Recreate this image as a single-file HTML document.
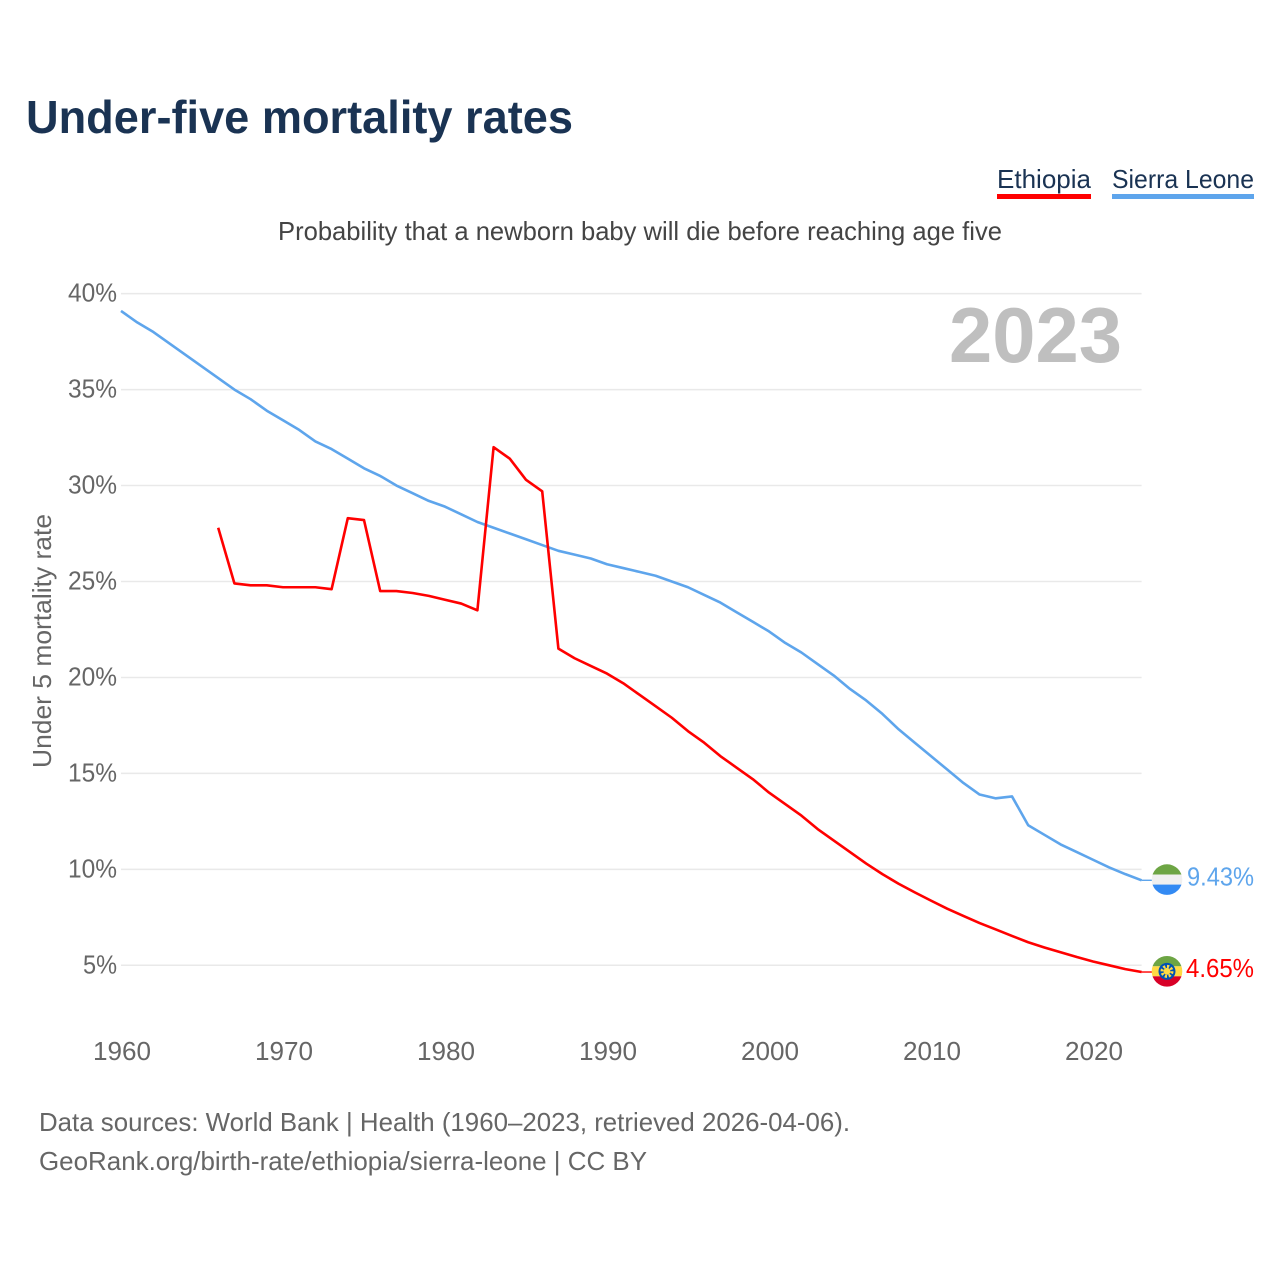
<!DOCTYPE html>
<html lang="en">
<head>
<meta charset="utf-8">
<title>Under-five mortality rates</title>
<style>
html,body{margin:0;padding:0;background:#fff;}
svg{display:block;font-family:"Liberation Sans",sans-serif;}
</style>
</head>
<body>
<svg id="chart" xmlns="http://www.w3.org/2000/svg" width="1280" height="1280" viewBox="0 0 1280 1280">
  <defs>
    <clipPath id="flag-clip-circle"><circle cx="0" cy="0" r="15.3"></circle></clipPath>
  </defs>
  <rect x="0" y="0" width="1280" height="1280" fill="#ffffff"></rect>
  <text x="26" y="133" font-size="46" font-weight="700" fill="#1a3353" textLength="547" lengthAdjust="spacingAndGlyphs">Under-five mortality rates</text>
  <g>
    <text x="997" y="188" font-size="26" fill="#1a3353" textLength="94" lengthAdjust="spacingAndGlyphs">Ethiopia</text>
    <rect x="997" y="194" width="94" height="5" fill="#ff0000"></rect>
  </g>
  <g>
    <text x="1112" y="188" font-size="26" fill="#1a3353" textLength="142" lengthAdjust="spacingAndGlyphs">Sierra Leone</text>
    <rect x="1112" y="194" width="142" height="5" fill="#5ea5ec"></rect>
  </g>
  <text x="278" y="240" font-size="26" fill="#444444" textLength="724" lengthAdjust="spacingAndGlyphs">Probability that a newborn baby will die before reaching age five</text>
  <g id="grid"></g>
  <g id="yticks"></g>
  <g id="xticks"></g>
  <text transform="translate(51,641) rotate(-90)" text-anchor="middle" font-size="26" fill="#666666" textLength="254" lengthAdjust="spacingAndGlyphs">Under 5 mortality rate</text>
  <text x="949" y="362" font-size="78" font-weight="700" fill="#bfbfbf" textLength="173" lengthAdjust="spacingAndGlyphs">2023</text>
  <g id="series"></g>
  <g id="end-markers"></g>
  <text x="39" y="1131" font-size="26" fill="#666666" textLength="811" lengthAdjust="spacingAndGlyphs">Data sources: World Bank | Health (1960–2023, retrieved 2026-04-06).</text>
  <text x="39" y="1170" font-size="26" fill="#666666" textLength="608" lengthAdjust="spacingAndGlyphs">GeoRank.org/birth-rate/ethiopia/sierra-leone | CC BY</text>
</svg>
<script>
const yTickValues = [5, 10, 15, 20, 25, 30, 35, 40];
const xTickYears = [1960, 1970, 1980, 1990, 2000, 2010, 2020];
const sierraLeoneStartYear = 1960;
const sierraLeoneValues = [39.1, 38.5, 38.0, 37.4, 36.8, 36.2, 35.6, 35.0, 34.5, 33.9, 33.4, 32.9, 32.3, 31.9, 31.4, 30.9, 30.5, 30.0, 29.6, 29.2, 28.9, 28.5, 28.1, 27.8, 27.5, 27.2, 26.9, 26.6, 26.4, 26.2, 25.9, 25.7, 25.5, 25.3, 25.0, 24.7, 24.3, 23.9, 23.4, 22.9, 22.4, 21.8, 21.3, 20.7, 20.1, 19.4, 18.8, 18.1, 17.3, 16.6, 15.9, 15.2, 14.5, 13.9, 13.7, 13.8, 12.3, 11.8, 11.3, 10.9, 10.5, 10.1, 9.75, 9.43];
const ethiopiaStartYear = 1966;
const ethiopiaValues = [27.8, 24.9, 24.8, 24.8, 24.7, 24.7, 24.7, 24.6, 28.3, 28.2, 24.5, 24.5, 24.4, 24.25, 24.05, 23.85, 23.5, 32.0, 31.4, 30.3, 29.7, 21.5, 21.0, 20.6, 20.2, 19.7, 19.1, 18.5, 17.9, 17.2, 16.6, 15.9, 15.3, 14.7, 14.0, 13.4, 12.8, 12.1, 11.5, 10.9, 10.3, 9.75, 9.25, 8.8, 8.37, 7.95, 7.57, 7.2, 6.87, 6.53, 6.2, 5.93, 5.68, 5.43, 5.2, 5.0, 4.8, 4.65];

const NS = 'http://www.w3.org/2000/svg';
function xScale(year) { return 121 + (year - 1960) * 16.2; }
function yScale(value) { return 965.3 - (value - 5) * 19.19; }
function make(tag, attrs, parent) {
  const el = document.createElementNS(NS, tag);
  for (const k in attrs) el.setAttribute(k, attrs[k]);
  parent.appendChild(el);
  return el;
}

const gridG = document.getElementById('grid');
const yG = document.getElementById('yticks');
yTickValues.forEach(function (v) {
  const line = make('line', { x1: xScale(1960), x2: xScale(2023), y1: yScale(v), y2: yScale(v), stroke: '#e9e9e9', 'stroke-width': 1.5 }, gridG);
  
  
  const label = v + '%';
  const t = make('text', { x: 117, y: yScale(v) + 8, 'text-anchor': 'end', 'font-size': 26, fill: '#666666', textLength: v < 10 ? 34 : 49, lengthAdjust: 'spacingAndGlyphs' }, yG);
  t.textContent = label;
  
  
});

const xG = document.getElementById('xticks');
xTickYears.forEach(function (yr) {
  const t = make('text', { x: xScale(yr) + 1, y: 1060, 'text-anchor': 'middle', 'font-size': 26, fill: '#666666', textLength: 58, lengthAdjust: 'spacingAndGlyphs' }, xG);
  t.textContent = String(yr);
  
  
});

function seriesPoints(start, values) {
  return values.map(function (v, i) { return xScale(start + i).toFixed(2) + ',' + yScale(v).toFixed(2); }).join(' ');
}
const seriesG = document.getElementById('series');
const blueLine = make('polyline', { points: seriesPoints(sierraLeoneStartYear, sierraLeoneValues), fill: 'none', stroke: '#5ea5ec', 'stroke-width': 2.6, 'stroke-linejoin': 'round' }, seriesG);


const redLine = make('polyline', { points: seriesPoints(ethiopiaStartYear, ethiopiaValues), fill: 'none', stroke: '#ff0000', 'stroke-width': 2.6, 'stroke-linejoin': 'round' }, seriesG);



const endG = document.getElementById('end-markers');
function flagGroup(cx, cy, name) {
  const wrap = make('g', { transform: 'translate(' + cx + ',' + (cy - 0.7) + ')' }, endG);
  
  
  return make('g', { 'clip-path': 'url(#flag-clip-circle)' }, wrap);
}
function endMarker(value, color, label, labelName, labelWidth, labelDy) {
  const ex = xScale(2023), ey = yScale(value);
  const link = make('line', { x1: ex, x2: 1154, y1: ey, y2: ey, stroke: color, 'stroke-width': 1.4 }, endG);
  
  
  const t = make('text', { x: 1254, y: ey + labelDy, 'text-anchor': 'end', 'font-size': 26, fill: color, textLength: labelWidth, lengthAdjust: 'spacingAndGlyphs' }, endG);
  t.textContent = label;
  
  
  return ey;
}

const slY = endMarker(sierraLeoneValues[sierraLeoneValues.length - 1], '#5ea5ec', sierraLeoneValues[sierraLeoneValues.length - 1].toFixed(2) + '%', 'end-label-sierra-leone', 67, 5.2);
const slFlag = flagGroup(1167, slY, 'flag-sierra-leone');
make('rect', { x: -16, y: -16, width: 32, height: 11, fill: '#6da544' }, slFlag);
make('rect', { x: -16, y: -5, width: 32, height: 10, fill: '#f0f0f0' }, slFlag);
make('rect', { x: -16, y: 5, width: 32, height: 11, fill: '#338af3' }, slFlag);

const etY = endMarker(ethiopiaValues[ethiopiaValues.length - 1], '#ff0000', ethiopiaValues[ethiopiaValues.length - 1].toFixed(2) + '%', 'end-label-ethiopia', 68, 5.2);
const etFlag = flagGroup(1167, etY, 'flag-ethiopia');
make('rect', { x: -16, y: -16, width: 32, height: 11, fill: '#6da544' }, etFlag);
make('rect', { x: -16, y: -5, width: 32, height: 10, fill: '#ffda44' }, etFlag);
make('rect', { x: -16, y: 5, width: 32, height: 11, fill: '#d80027' }, etFlag);
make('circle', { cx: 0, cy: 0, r: 8.5, fill: '#0052b4' }, etFlag);
make('circle', { cx: 0, cy: 0, r: 5, fill: 'none', stroke: '#ffda44', 'stroke-width': 3, 'stroke-dasharray': '2.2 1.7' }, etFlag);
make('circle', { cx: 0, cy: 0, r: 3.4, fill: '#ffda44' }, etFlag);
</script>
</body>
</html>
